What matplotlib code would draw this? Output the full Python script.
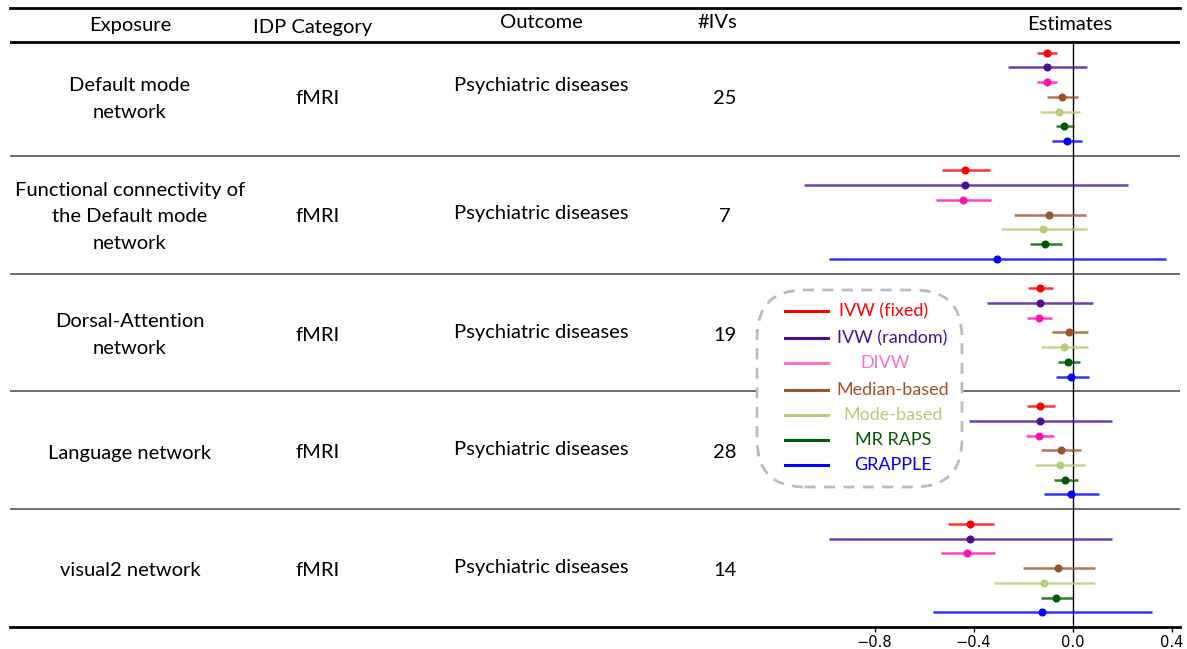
import matplotlib
matplotlib.use("Agg")
import matplotlib.pyplot as plt
import numpy as np
from matplotlib.patches import FancyBboxPatch
from matplotlib.lines import Line2D

plt.rcParams['font.family'] = ['Lato', 'DejaVu Sans']

# table columns
exposures = ["Default mode\nnetwork",
             "Functional connectivity of\nthe Default mode\nnetwork",
             "Dorsal-Attention\nnetwork",
             "Language network",
             "visual2 network"]
categories = ["fMRI"] * 5
outcomes = ["Psychiatric diseases"] * 5
n_ivs = ["25", "7", "19", "28", "14"]

methods = ["IVW (fixed)", "IVW (random)", "DIVW", "Median-based",
           "Mode-based", "MR RAPS", "GRAPPLE"]
colors = ["#ff0000", "#4b0f96", "#ff10b0", "#a0522d",
          "#b5cc7a", "#005a00", "#0000ff"]
legend_colors = ["#ff0000", "#4b0f96", "#ff70c8", "#a0522d",
                 "#b5cc7a", "#005a00", "#0000ff"]

# estimates per exposure (rows = methods)
est = [
    [-0.104, -0.105, -0.105, -0.043, -0.053, -0.035, -0.024],
    [-0.434, -0.434, -0.443, -0.094, -0.118, -0.110, -0.306],
    [-0.133, -0.133, -0.136, -0.013, -0.036, -0.018, -0.006],
    [-0.131, -0.131, -0.134, -0.047, -0.051, -0.030, -0.008],
    [-0.416, -0.416, -0.426, -0.058, -0.115, -0.065, -0.123],
]
lo = [
    [-0.144, -0.261, -0.145, -0.104, -0.133, -0.069, -0.084],
    [-0.527, -1.086, -0.550, -0.237, -0.290, -0.171, -0.983],
    [-0.180, -0.347, -0.183, -0.082, -0.126, -0.060, -0.069],
    [-0.185, -0.417, -0.188, -0.126, -0.151, -0.077, -0.117],
    [-0.505, -0.986, -0.531, -0.202, -0.316, -0.126, -0.563],
]
hi = [
    [-0.062, 0.057, -0.062, 0.023, 0.031, 0.007, 0.039],
    [-0.335, 0.225, -0.331, 0.053, 0.057, -0.044, 0.379],
    [-0.080, 0.083, -0.082, 0.061, 0.061, 0.028, 0.068],
    [-0.073, 0.158, -0.075, 0.033, 0.049, 0.020, 0.107],
    [-0.319, 0.159, -0.314, 0.089, 0.090, 0.000, 0.319],
]

W, H = 1187, 649
fig = plt.figure(figsize=(W / 100, H / 100), dpi=100)


def fx(x):
    return x / W


def fy(y):
    return 1 - y / H


ax = fig.add_axes([fx(10), fy(627), fx(1180) - fx(10), fy(8) - fy(627)])
ax.set_xlim(-4.293, 0.434)
ax.set_ylim(40, -2.03)

for s in ['left', 'right']:
    ax.spines[s].set_visible(False)
ax.spines['top'].set_linewidth(2)
ax.spines['bottom'].set_linewidth(2)
ax.set_yticks([])
ax.set_xticks([-0.8, -0.4, 0.0, 0.4])
ax.tick_params(axis='x', length=3.5, width=1, labelsize=10.5, pad=2)
for lab in ax.get_xticklabels():
    lab.set_family('DejaVu Sans')

# header line and group separators
ax.axhline(0.275, color='black', lw=2)
for g in range(1, 5):
    ax.axhline(8 * g, color='#555555', lw=1.2)
ax.plot([0, 0], [0.275, 40], color='black', lw=1)

# header
fs = 14.5
col_x = [130, 313, 541, 717, 1070]
col_y = [26, 27, 23, 23, 24]
headers = ["Exposure", "IDP Category", "Outcome", "#IVs", "Estimates"]
for cx, cy, h in zip(col_x, col_y, headers):
    fig.text(fx(cx), fy(cy), h, ha='center', va='center', fontsize=fs)

# table rows
for g in range(5):
    yc = fy(99 + 118 * g)
    fig.text(fx(130), yc, exposures[g], ha='center', va='center',
             fontsize=fs, linespacing=1.65)
    fig.text(fx(318), yc, categories[g], ha='center', va='center', fontsize=fs)
    oy = fy(85) if g == 0 else fy(96 + 118 * g)
    fig.text(fx(541), oy, outcomes[g], ha='center', va='center', fontsize=fs)
    fig.text(fx(725), yc, n_ivs[g], ha='center', va='center', fontsize=fs)

# forest points
for g in range(5):
    for m in range(7):
        y = 8 * g + m + 1
        ax.hlines(y, lo[g][m], hi[g][m], color=colors[m], lw=1.8, alpha=0.8)
        ax.plot(est[g][m], y, 'o', color=colors[m], ms=4.8)

# legend box
box = FancyBboxPatch((fx(757), fy(487)), fx(962) - fx(757), fy(290) - fy(487),
                     boxstyle="round,pad=0,rounding_size=0.04",
                     transform=fig.transFigure, facecolor='white',
                     edgecolor='#bbbbbb', lw=2, ls=(0, (4, 3)),
                     mutation_aspect=W / H)
fig.add_artist(box)
leg_y = [311, 338, 363, 390, 415, 440, 465]
leg_x = [884, 892, 885, 893, 893, 893, 893]
for m in range(7):
    fig.add_artist(Line2D([fx(785), fx(828)], [fy(leg_y[m])] * 2,
                          color=legend_colors[m], lw=2.2,
                          transform=fig.transFigure))
    fig.text(fx(leg_x[m]), fy(leg_y[m]), methods[m], ha='center', va='center',
             fontsize=13, color=legend_colors[m])

fig.savefig("out.png", dpi=100)
